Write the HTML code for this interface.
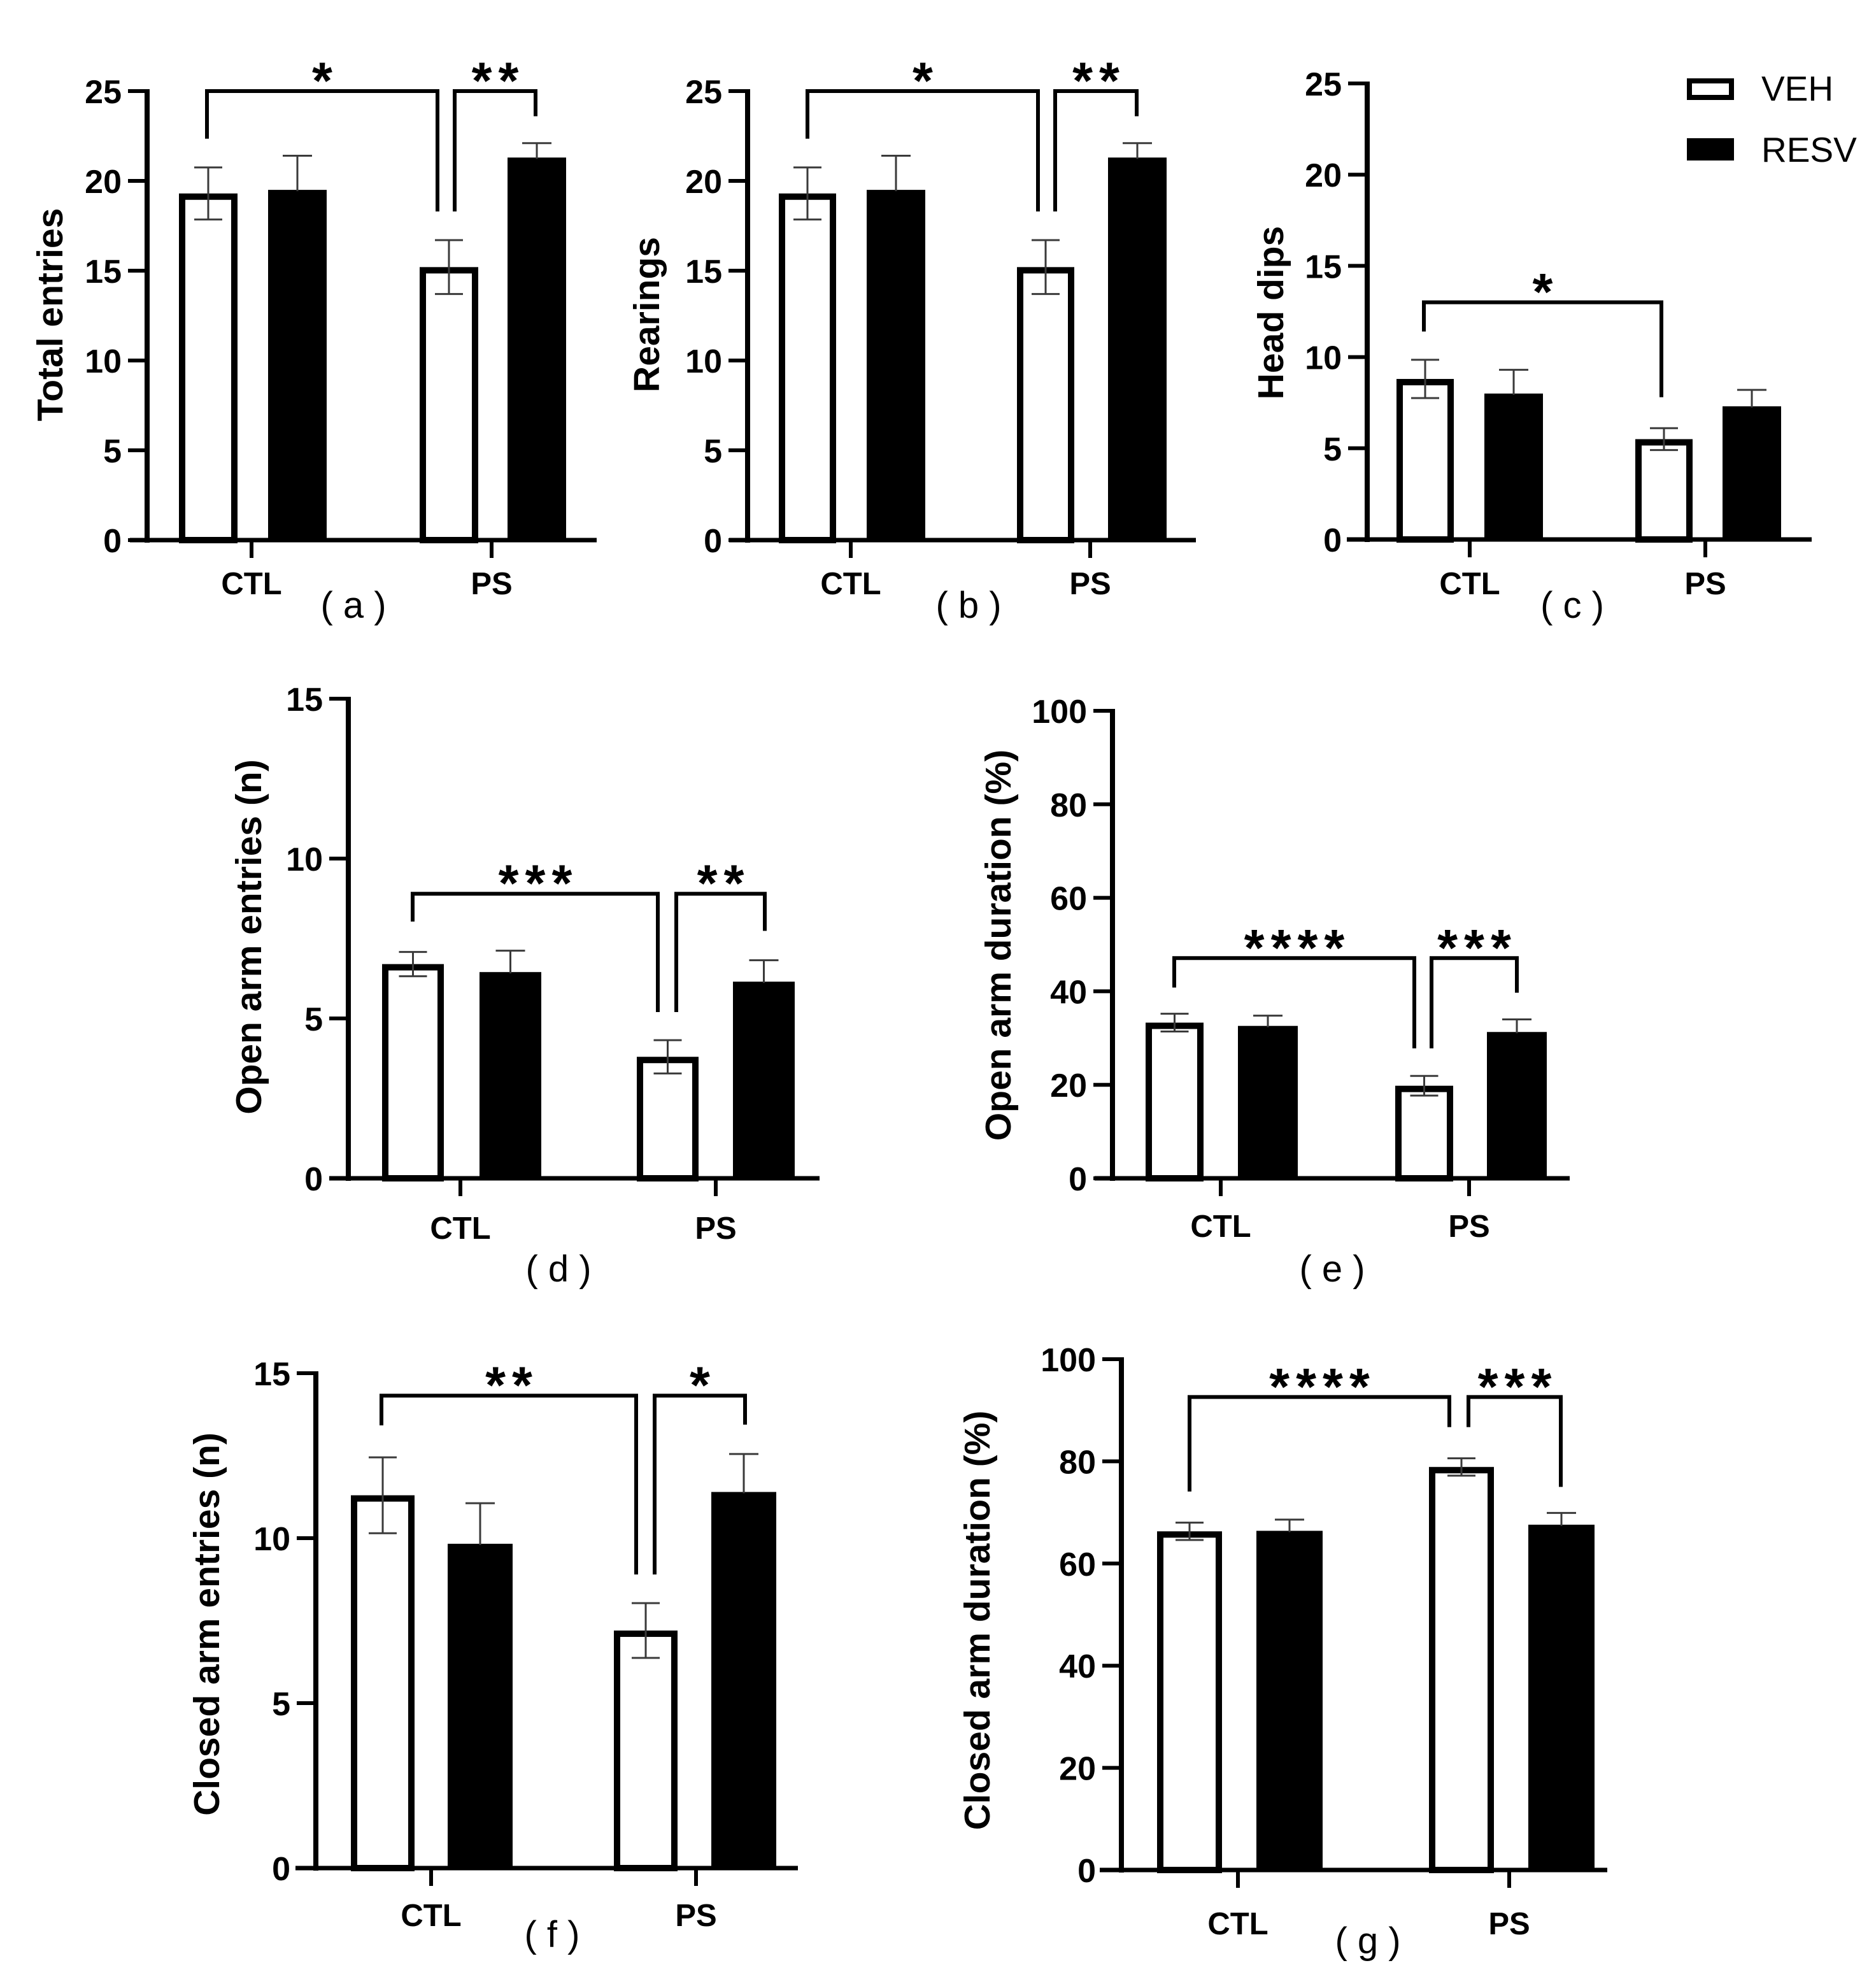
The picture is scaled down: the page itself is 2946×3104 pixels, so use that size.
<!DOCTYPE html>
<html><head><meta charset="utf-8"><style>
html,body{margin:0;padding:0;background:#fff;}
svg{display:block;}
text{font-family:"Liberation Sans",Arial,sans-serif;}
</style></head>
<body>
<svg id="fig" width="2946" height="3104" viewBox="0 0 2946 3104" xmlns="http://www.w3.org/2000/svg">
<rect x="0" y="0" width="2946" height="3104" fill="#fff"/>
<g id="legend">
  <rect x="2653" y="127" width="66" height="26" fill="#fff" stroke="#000" stroke-width="8"/>
  <text x="2766" y="158" font-size="55">VEH</text>
  <rect x="2649" y="217" width="74" height="35" fill="#000"/>
  <text x="2766" y="254" font-size="55">RESV</text>
</g>
</svg>
<script>
// ---- data ----
const categories = ["CTL", "PS"];
const aVeh = [19.3, 15.2];  const aVehErr = [1.45, 1.5];
const aResv = [19.5, 21.3]; const aResvErr = [1.9, 0.8];
const bVeh = [19.3, 15.2];  const bVehErr = [1.45, 1.5];
const bResv = [19.5, 21.3]; const bResvErr = [1.9, 0.8];
const cVeh = [8.8, 5.5];    const cVehErr = [1.05, 0.6];
const cResv = [8.0, 7.3];   const cResvErr = [1.3, 0.9];
const dVeh = [6.7, 3.8];    const dVehErr = [0.38, 0.52];
const dResv = [6.45, 6.15]; const dResvErr = [0.67, 0.67];
const eVeh = [33.3, 19.8];  const eVehErr = [1.9, 2.1];
const eResv = [32.6, 31.3]; const eResvErr = [2.2, 2.7];
const fVeh = [11.3, 7.2];   const fVehErr = [1.15, 0.83];
const fResv = [9.83, 11.4]; const fResvErr = [1.23, 1.15];
const gVeh = [66.3, 78.9];  const gVehErr = [1.7, 1.7];
const gResv = [66.4, 67.6]; const gResvErr = [2.2, 2.3];
const ticks25 = [0, 5, 10, 15, 20, 25];
const ticks15 = [0, 5, 10, 15];
const ticks100 = [0, 20, 40, 60, 80, 100];
// bracket values: [top, leftLegEnd, rightLegEnd]
const aBrackets = [[25, 22.35, 18.3], [25, 18.3, 23.6]];
const aStars = ["*", "**"];
const bBrackets = [[25, 22.35, 18.3], [25, 18.3, 23.6]];
const bStars = ["*", "**"];
const cBrackets = [[13, 11.4, 7.8]];
const cStars = ["*"];
const dBrackets = [[8.9, 8.03, 5.2], [8.9, 5.2, 7.74]];
const dStars = ["***", "**"];
const eBrackets = [[47.1, 40.8, 27.8], [47.1, 27.8, 39.7]];
const eStars = ["****", "***"];
const fBrackets = [[14.32, 13.42, 8.9], [14.32, 8.9, 13.44]];
const fStars = ["**", "*"];
const gBrackets = [[92.6, 74.1, 86.7], [92.6, 86.7, 75]];
const gStars = ["****", "***"];

const NS = "http://www.w3.org/2000/svg";
const svg = document.getElementById("fig");
function mk(tag, attrs, parent) {
  const e = document.createElementNS(NS, tag);
  for (const k in attrs) e.setAttribute(k, attrs[k]);
  parent.appendChild(e);
  return e;
}

const panels = [
 {id:"a", title:"Total entries", veh:aVeh, vehErr:aVehErr, resv:aResv, resvErr:aResvErr, ticks:ticks25, max:25,
  ax:231, y0:848, yT:143, xs:204, xe:937, vehX:[281,659], vehW:92, resvX:[421,797], resvW:92, catX:[395,772],
  brX:[[325,687],[714,841]], br:aBrackets, stars:aStars, ytX:77, ytY:494, catY:933, subX:555, subY:970},
 {id:"b", title:"Rearings", veh:bVeh, vehErr:bVehErr, resv:bResv, resvErr:bResvErr, ticks:ticks25, max:25,
  ax:1174, y0:848, yT:143, xs:1145, xe:1878, vehX:[1223,1597], vehW:90, resvX:[1361,1740], resvW:92, catX:[1336,1712],
  brX:[[1268,1630],[1657,1785]], br:bBrackets, stars:bStars, ytX:1014, ytY:494, catY:933, subX:1521, subY:970},
 {id:"c", title:"Head dips", veh:cVeh, vehErr:cVehErr, resv:cResv, resvErr:cResvErr, ticks:ticks25, max:25,
  ax:2147, y0:847, yT:131, xs:2115, xe:2845, vehX:[2193,2568], vehW:90, resvX:[2331,2705], resvW:92, catX:[2308,2678],
  brX:[[2236,2609]], br:cBrackets, stars:cStars, ytX:1994, ytY:491, catY:933, subX:2469, subY:970},
 {id:"d", title:"Open arm entries (n)", veh:dVeh, vehErr:dVehErr, resv:dResv, resvErr:dResvErr, ticks:ticks15, max:15,
  ax:547, y0:1850, yT:1097, xs:517, xe:1287, vehX:[600,1000], vehW:97, resvX:[753,1151], resvW:97, catX:[723,1124],
  brX:[[648,1033],[1062,1201]], br:dBrackets, stars:dStars, ytX:389, ytY:1471, catY:1945, subX:877, subY:2012},
 {id:"e", title:"Open arm duration (%)", veh:eVeh, vehErr:eVehErr, resv:eResv, resvErr:eResvErr, ticks:ticks100, max:100,
  ax:1747, y0:1850, yT:1116, xs:1719, xe:2465, vehX:[1799,2191], vehW:91, resvX:[1944,2335], resvW:94, catX:[1917,2307],
  brX:[[1844,2221],[2248,2382]], br:eBrackets, stars:eStars, ytX:1566, ytY:1484, catY:1942, subX:2092, subY:2012},
 {id:"f", title:"Closed arm entries (n)", veh:fVeh, vehErr:fVehErr, resv:fResv, resvErr:fResvErr, ticks:ticks15, max:15,
  ax:496, y0:2933, yT:2156, xs:464, xe:1253, vehX:[551,964], vehW:100, resvX:[703,1117], resvW:102, catX:[677,1093],
  brX:[[599,999],[1028,1170]], br:fBrackets, stars:fStars, ytX:323, ytY:2550, catY:3024, subX:867, subY:3057},
 {id:"g", title:"Closed arm duration (%)", veh:gVeh, vehErr:gVehErr, resv:gResv, resvErr:gResvErr, ticks:ticks100, max:100,
  ax:1761, y0:2936, yT:2134, xs:1727, xe:2524, vehX:[1817,2244], vehW:102, resvX:[1973,2400], resvW:104, catX:[1944,2370],
  brX:[[1868,2276],[2306,2451]], br:gBrackets, stars:gStars, ytX:1533, ytY:2544, catY:3037, subX:2148, subY:3067}
];

panels.forEach(p => {
  const g = mk("g", {}, svg);
  
  
  const yS = v => p.y0 - (v / p.max) * (p.y0 - p.yT);

  for (let i = 0; i < categories.length; i++) {
    const vt = yS(p.veh[i]);
    const vb = mk("rect", {x: p.vehX[i] + 5, y: vt + 5, width: p.vehW - 10, height: p.y0 - vt - 5, fill: "#fff", stroke: "#000", "stroke-width": 10}, g);
    
    
    const rt = yS(p.resv[i]);
    const rb = mk("rect", {x: p.resvX[i], y: rt, width: p.resvW, height: p.y0 - rt, fill: "#000"}, g);
    
    
    const vc = p.vehX[i] + p.vehW / 2;
    const vu = yS(p.veh[i] + p.vehErr[i]), vl = yS(p.veh[i] - p.vehErr[i]);
    const ev = mk("path", {d: `M${vc},${vu}V${vl}M${vc-22},${vu}H${vc+22}M${vc-22},${vl}H${vc+22}`, stroke: "#3a3a3a", "stroke-width": 3, fill: "none"}, g);
    
    
    const rc = p.resvX[i] + p.resvW / 2;
    const ru = yS(p.resv[i] + p.resvErr[i]);
    const er = mk("path", {d: `M${rc},${ru}V${rt+2}M${rc-23},${ru}H${rc+23}`, stroke: "#3a3a3a", "stroke-width": 3, fill: "none"}, g);
    
    
  }

  const ya = mk("line", {x1: p.ax, y1: p.yT - 3, x2: p.ax, y2: p.y0 + 4, stroke: "#000", "stroke-width": 8}, g);
  
  
  const xa = mk("line", {x1: p.xs, y1: p.y0, x2: p.xe, y2: p.y0, stroke: "#000", "stroke-width": 7}, g);
  
  
  p.ticks.forEach(t => {
    const y = yS(t);
    const tl = mk("line", {x1: p.ax - 30, y1: y, x2: p.ax, y2: y, stroke: "#000", "stroke-width": 6}, g);
    
    
    const tx = mk("text", {x: p.ax - 40, y: y + 19, "font-size": 52, "font-weight": "bold", "text-anchor": "end"}, g);
    tx.textContent = t;
    
    
  });
  for (let i = 0; i < categories.length; i++) {
    const tk = mk("line", {x1: p.catX[i], y1: p.y0, x2: p.catX[i], y2: p.y0 + 28, stroke: "#000", "stroke-width": 6}, g);
    
    
    const cl = mk("text", {x: p.catX[i], y: p.catY, "font-size": 49, "font-weight": "bold", "text-anchor": "middle"}, g);
    cl.textContent = categories[i];
    
    
  }

  const yt = mk("text", {x: 0, y: 0, "font-size": 57, "font-weight": "bold", "text-anchor": "middle", transform: `translate(${p.ytX + 21},${p.ytY}) rotate(-90)`}, g);
  yt.textContent = p.title;
  
  

  const sl = mk("text", {x: p.subX, y: p.subY, "font-size": 58, "text-anchor": "middle"}, g);
  sl.textContent = "( " + p.id + " )";
  
  

  p.br.forEach((b, j) => {
    const x1 = p.brX[j][0], x2 = p.brX[j][1];
    const top = yS(b[0]);
    const bp = mk("path", {d: `M${x1},${yS(b[1])}V${top}H${x2}V${yS(b[2])}`, stroke: "#000", "stroke-width": 6, fill: "none"}, g);
    
    
    const st = mk("text", {x: (x1 + x2) / 2 + 5, y: top + 12, "font-size": 82, "font-weight": "bold", "text-anchor": "middle", "letter-spacing": 10}, g);
    st.textContent = p.stars[j];
    
    
  });
});
</script>
</body></html>
